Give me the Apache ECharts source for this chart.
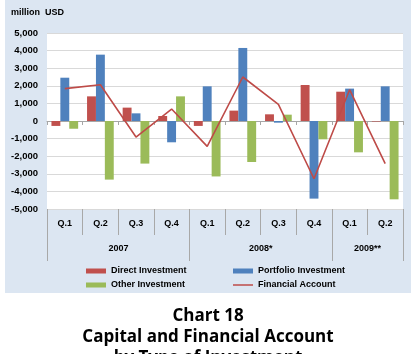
<!DOCTYPE html>
<html>
<head>
<meta charset="utf-8">
<script src="https://cdn.jsdelivr.net/npm/echarts@6/dist/echarts.min.js"></script>
<style>
html,body{margin:0;padding:0;background:#fff;}
#chart{width:416px;height:354px;}
</style>
</head>
<body>
<div id="chart"></div>
<script>
// ---- data (million USD) ----
var quarters = ['Q.1','Q.2','Q.3','Q.4','Q.1','Q.2','Q.3','Q.4','Q.1','Q.2'];
var yearLabels = ['', '2007', '', '', '', '2008*', '', '', '2009**', ''];
var yearStartIdx = [0, 4, 8];
var directInvestment = [-280, 1400, 760, 285, -280, 590, 380, 2045, 1665, -30];
var portfolioInvestment = [2460, 3770, 435, -1210, 1970, 4150, -95, -4410, 1840, 1970];
var otherInvestment = [-440, -3330, -2420, 1400, -3150, -2330, 360, -1040, -1780, -4450];
var financialAccount = [1840, 2060, -910, 680, -1440, 2500, 950, -3280, 1780, -2420];
var yMin = -5000, yMax = 5000, yStep = 1000;

var AX_FONT = 'Liberation Sans, Arial, sans-serif';
var chart = echarts.init(document.getElementById('chart'), null, {renderer:'canvas'});
function fmt(v){ return v.toLocaleString('en-US'); }
var legendText = {fontFamily: AX_FONT, fontSize: 9, fontWeight: 'bold', color: '#000', lineHeight: 10};

var option = {
  animation: false,
  backgroundColor: '#ffffff',
  graphic: [{
    type: 'rect', z: -10, silent: true,
    shape: {x: 5, y: 0, width: 406, height: 293},
    style: {fill: '#dce6f2'}
  }],
  title: [
    {text: 'million  USD', left: 11, top: 8, padding: 0,
     textStyle: {fontFamily: AX_FONT, fontSize: 9, fontWeight: 'bold', color: '#000'}},
    {text: 'Chart 18\nCapital and Financial Account\nby Type of Investment',
     left: 'center', top: 306, padding: 0,
     textStyle: {fontFamily: 'Open Sans', fontSize: 17, fontWeight: 'bold', color: '#000', lineHeight: 21}}
  ],
  legend: [
    {data: ['Direct Investment', 'Other Investment'], orient: 'vertical', left: 86, top: 266,
     itemWidth: 20, itemHeight: 5, itemGap: 4, padding: 0, icon: 'rect', textStyle: legendText},
    {data: ['Portfolio Investment'], orient: 'vertical', left: 233, top: 266,
     itemWidth: 20, itemHeight: 5, itemGap: 4, padding: 0, icon: 'rect', textStyle: legendText},
    {data: ['Financial Account'], orient: 'vertical', left: 233, top: 280,
     itemWidth: 20, itemHeight: 1.5, itemGap: 4, padding: 0, icon: 'rect', textStyle: legendText}
  ],
  grid: {left: 47, right: 13, top: 33, bottom: 145, show: true, backgroundColor: '#ffffff', borderWidth: 0},
  xAxis: [
    {type: 'category', data: quarters, position: 'bottom',
     axisLine: {onZero: true, lineStyle: {color: '#a6a6a6', width: 1}},
     axisTick: {show: true, length: 4, lineStyle: {color: '#a6a6a6'}},
     axisLabel: {show: false}, splitLine: {show: false}},
    {type: 'category', data: quarters, position: 'bottom',
     axisLine: {show: false, onZero: false},
     axisTick: {show: true, length: 26, lineStyle: {color: '#a8a8a8'}},
     axisLabel: {interval: 0, margin: 10, fontFamily: AX_FONT, fontSize: 9, fontWeight: 'bold', color: '#000'}},
    {type: 'category', data: quarters, position: 'bottom',
     axisLine: {show: false, onZero: false},
     axisTick: {show: true, length: 52, lineStyle: {color: '#a8a8a8'},
                interval: function(i){ return yearStartIdx.indexOf(i) >= 0; }},
     axisLabel: {interval: 0, margin: 35, padding: [0, 0, 0, 36],
                 formatter: function(v, i){ return yearLabels[i]; },
                 fontFamily: AX_FONT, fontSize: 9, fontWeight: 'bold', color: '#000'}}
  ],
  yAxis: {
    type: 'value', min: yMin, max: yMax, interval: yStep,
    axisLine: {show: false}, axisTick: {show: false},
    splitLine: {lineStyle: {color: '#d9d9d9', width: 1}},
    axisLabel: {margin: 9, formatter: fmt, fontFamily: AX_FONT, fontSize: 9.5, fontWeight: 'bold', color: '#000'}
  },
  series: [
    {name: 'Direct Investment', type: 'bar', data: directInvestment, barGap: 0, barCategoryGap: '25%',
     itemStyle: {color: '#c0504d'}},
    {name: 'Portfolio Investment', type: 'bar', data: portfolioInvestment, barGap: 0, barCategoryGap: '25%',
     itemStyle: {color: '#4f81bd'}},
    {name: 'Other Investment', type: 'bar', data: otherInvestment, barGap: 0, barCategoryGap: '25%',
     itemStyle: {color: '#9bbb59'}},
    {name: 'Financial Account', type: 'line', data: financialAccount, symbol: 'none', z: 5,
     lineStyle: {color: '#be4b48', width: 1.6}, itemStyle: {color: '#be4b48'}}
  ]
};
chart.setOption(option);
</script>
</body>
</html>
